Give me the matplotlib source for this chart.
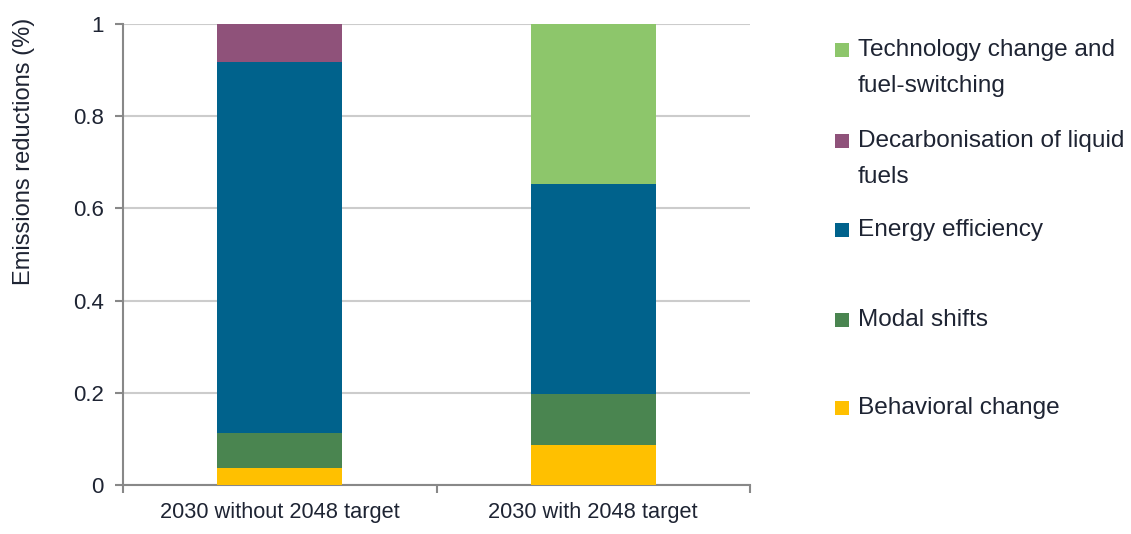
import matplotlib
matplotlib.use("Agg")
import matplotlib.pyplot as plt
from matplotlib.patches import Rectangle
import numpy as np

plt.rcParams['font.family'] = ['Liberation Sans', 'DejaVu Sans']

categories = ["2030 without 2048 target", "2030 with 2048 target"]
series_names = ["Behavioral change", "Modal shifts", "Energy efficiency",
                "Decarbonisation of liquid fuels", "Technology change and fuel-switching"]
behavioral = [0.037, 0.087]
modal = [0.076, 0.110]
efficiency = [0.805, 0.455]
decarbonisation = [0.082, 0.0]
technology = [0.0, 0.348]
colors = ["#FFC000", "#4A8550", "#00628C", "#8F527A", "#8DC66B"]

legend_labels = [["Technology change and", "fuel-switching"],
                 ["Decarbonisation of liquid", "fuels"],
                 ["Energy efficiency"],
                 ["Modal shifts"],
                 ["Behavioral change"]]
legend_colors = ["#8DC66B", "#8F527A", "#00628C", "#4A8550", "#FFC000"]

W, H = 1131, 534
fig = plt.figure(figsize=(W/100, H/100), dpi=100)
ax = fig.add_axes([123/W, 1-485/H, (750-123)/W, (485-24)/H])

x = np.arange(len(categories))
bottom = np.zeros(len(categories))
for vals, c in zip([behavioral, modal, efficiency, decarbonisation, technology], colors):
    ax.bar(x, vals, width=0.4, bottom=bottom, color=c, zorder=3)
    bottom += np.array(vals)

txtc = "#1e2433"
ax.set_xlim(-0.5, 1.5)
ax.set_ylim(0, 1)
ax.set_yticks([0, 0.2, 0.4, 0.6, 0.8, 1.0])
ax.set_yticklabels(["0", "0.2", "0.4", "0.6", "0.8", "1"])
ax.set_xticks(x)
ax.set_xticklabels(categories)
ax.set_xticks([-0.5, 0.5, 1.5], minor=True)
ax.tick_params(axis='x', which='major', length=0, pad=12, labelsize=15.7, labelcolor=txtc)
ax.tick_params(axis='x', which='minor', length=6, width=1.5, color="#888888", direction='out')
ax.tick_params(axis='y', length=6, width=1.5, color="#888888", direction='out', labelsize=16,
               labelcolor=txtc, pad=8)
ax.grid(axis='y', color="#cccccc", linewidth=1.5, zorder=0)
for s in ['top', 'right']:
    ax.spines[s].set_visible(False)
for s in ['left', 'bottom']:
    ax.spines[s].set_color("#888888")
    ax.spines[s].set_linewidth(1.5)
ax.set_ylabel("Emissions reductions (%)", fontsize=17, color=txtc)
ax.yaxis.set_label_coords((35-123)/627, (485-151.5)/461)

ys = [50, 141, 230, 320, 408]
for lines, c, yy in zip(legend_labels, legend_colors, ys):
    fig.patches.append(Rectangle((835/W, 1-(yy+7)/H), 14/W, 14/H, transform=fig.transFigure,
                                 facecolor=c, edgecolor='none'))
    for i, line in enumerate(lines):
        fig.text(858/W, 1-(yy+36*i)/H, line, fontsize=17.6, color=txtc, va='center', ha='left')

fig.savefig("out.png", dpi=100)
